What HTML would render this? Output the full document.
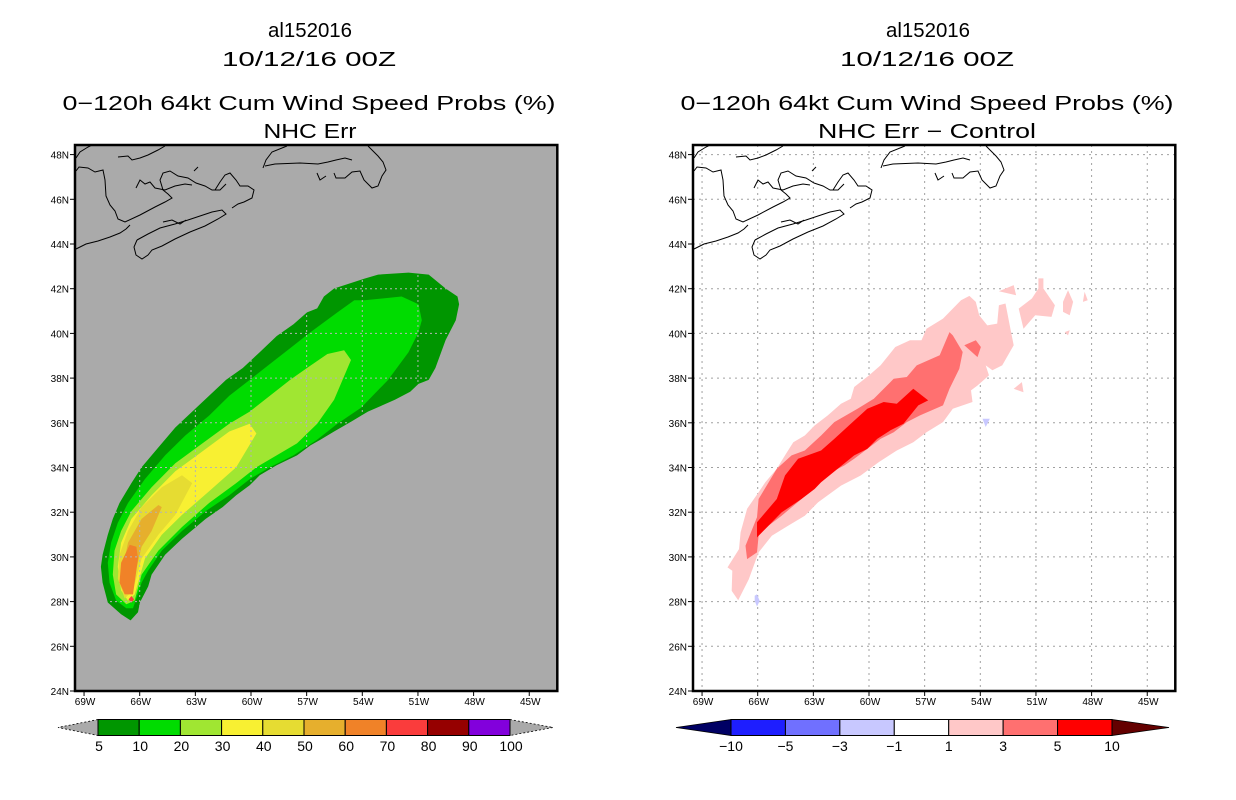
<!DOCTYPE html>
<html><head><meta charset="utf-8"><style>
html,body{margin:0;padding:0;background:#fff;}
svg{display:block;font-family:"Liberation Sans",sans-serif;}
</style></head><body>
<svg id="fig" width="1236" height="800" viewBox="0 0 1236 800" xmlns="http://www.w3.org/2000/svg">
<defs>
 <clipPath id="clipL"><rect x="75" y="145" width="482.3" height="546"/></clipPath>
 <clipPath id="clipR"><rect x="693" y="145" width="482.3" height="546"/></clipPath>
</defs>
<g font-size="20" text-anchor="middle" fill="#000">
 <text x="310" y="37" textLength="84" lengthAdjust="spacingAndGlyphs">al152016</text>
 <text x="309" y="66" textLength="174" lengthAdjust="spacingAndGlyphs">10/12/16 00Z</text>
 <text x="309" y="110" textLength="493" lengthAdjust="spacingAndGlyphs">0−120h 64kt Cum Wind Speed Probs (%)</text>
 <text x="310" y="138" textLength="93" lengthAdjust="spacingAndGlyphs">NHC Err</text>
</g>
<g font-size="20" text-anchor="middle" fill="#000">
 <text x="928" y="37" textLength="84" lengthAdjust="spacingAndGlyphs">al152016</text>
 <text x="927" y="66" textLength="174" lengthAdjust="spacingAndGlyphs">10/12/16 00Z</text>
 <text x="927" y="110" textLength="493" lengthAdjust="spacingAndGlyphs">0−120h 64kt Cum Wind Speed Probs (%)</text>
 <text x="927" y="138" textLength="218" lengthAdjust="spacingAndGlyphs">NHC Err − Control</text>
</g>
<rect x="75" y="145" width="482.3" height="546" fill="#aaaaaa"/>
<rect x="693" y="145" width="482.3" height="546" fill="#ffffff"/>
<g id="layerL" clip-path="url(#clipL)"></g>
<g id="layerR" clip-path="url(#clipR)"></g>
<g id="axes"></g>
</svg>
<script>
const NS="http://www.w3.org/2000/svg";
// ---- data ----
const lonTicks=[-69,-66,-63,-60,-57,-54,-51,-48,-45];
const lonTickLabels=["69W","66W","63W","60W","57W","54W","51W","48W","45W"];
const latTicks=[24,26,28,30,32,34,36,38,40,42,44,46,48];
const latTickLabels=["24N","26N","28N","30N","32N","34N","36N","38N","40N","42N","44N","46N","48N"];
const probLevels=["5","10","20","30","40","50","60","70","80","90","100"];
const probColors=["#009600","#00dc00","#a0e632","#f8f032","#e6dc32","#e6af2d","#f08228","#fa3c3c","#960000","#8200dc"];
const diffLevels=["−10","−5","−3","−1","1","3","5","10"];
const diffColors=["#1e1eff","#7070ff","#c8c8ff","#ffffff","#ffc8c8","#ff7070","#ff0000"];
const p05=[[-66.49,27.16],[-66.09,27.52],[-65.99,27.96],[-65.54,28.68],[-65.36,29.21],[-64.63,30.10],[-63.72,30.81],[-62.44,31.70],[-61.53,32.23],[-60.80,32.76],[-60.07,33.21],[-59.53,33.65],[-58.62,34.10],[-57.52,34.54],[-56.80,34.99],[-56.25,35.25],[-55.52,35.61],[-54.61,36.05],[-53.70,36.50],[-52.24,37.03],[-51.42,37.39],[-50.97,37.74],[-50.42,37.92],[-50.06,38.45],[-49.51,39.70],[-48.96,40.59],[-48.78,41.30],[-48.87,41.65],[-49.51,42.01],[-50.42,42.63],[-51.51,42.72],[-53.15,42.63],[-53.88,42.45],[-55.52,42.01],[-56.07,41.65],[-56.43,41.12],[-56.98,40.94],[-57.71,40.41],[-58.62,39.88],[-59.53,39.16],[-60.44,38.45],[-61.35,37.92],[-62.26,37.21],[-63.17,36.50],[-64.08,35.79],[-64.99,34.90],[-65.90,34.01],[-66.45,33.30],[-67.09,32.41],[-67.45,31.70],[-67.72,30.99],[-68.00,30.10],[-68.09,29.56],[-68.00,28.85],[-67.72,27.96],[-67.00,27.43]];
const p10=[[-66.36,27.70],[-65.90,28.85],[-65.54,29.39],[-64.81,30.28],[-63.72,31.16],[-62.44,32.05],[-61.17,32.76],[-60.07,33.48],[-58.98,34.01],[-57.71,34.54],[-56.43,35.25],[-55.34,35.96],[-54.06,36.68],[-52.61,37.92],[-51.51,39.16],[-50.97,40.05],[-50.79,40.59],[-50.97,41.30],[-51.88,41.65],[-53.88,41.48],[-54.43,41.48],[-55.34,40.94],[-56.80,40.05],[-57.89,39.34],[-58.98,38.63],[-60.07,37.92],[-61.17,37.21],[-62.26,36.32],[-63.54,35.43],[-64.63,34.54],[-65.72,33.48],[-66.63,32.41],[-67.18,31.52],[-67.54,30.63],[-67.72,29.74],[-67.63,28.85],[-67.27,28.05],[-66.72,27.70]];
const p20=[[-66.27,28.05],[-65.90,29.21],[-64.99,30.28],[-63.72,31.34],[-62.26,32.41],[-60.80,33.30],[-59.71,34.01],[-58.62,34.54],[-57.52,35.08],[-56.43,35.96],[-55.52,37.03],[-54.61,38.81],[-54.98,39.25],[-55.88,39.08],[-56.98,38.45],[-57.89,37.92],[-58.98,37.21],[-60.07,36.50],[-61.17,35.96],[-62.62,35.08],[-64.08,34.19],[-65.36,33.12],[-66.45,32.05],[-67.00,31.16],[-67.36,30.28],[-67.45,29.21],[-67.27,28.32],[-66.72,27.88]];
const p30=[[-66.27,28.32],[-65.72,29.92],[-64.81,30.99],[-63.72,31.88],[-62.26,32.94],[-60.80,34.01],[-59.71,35.52],[-60.07,35.96],[-61.17,35.61],[-62.62,34.72],[-64.08,33.83],[-65.36,32.76],[-66.45,31.70],[-67.00,30.63],[-67.18,29.56],[-67.00,28.50],[-66.63,28.05]];
const p40=[[-66.36,28.50],[-65.90,29.92],[-64.99,30.99],[-64.08,31.88],[-63.17,33.30],[-63.72,33.65],[-64.81,33.12],[-65.90,32.23],[-66.63,31.16],[-67.09,30.10],[-67.18,29.03],[-66.81,28.14]];
const p50=[[-66.36,28.85],[-65.90,30.45],[-65.36,31.16],[-64.81,32.23],[-64.99,32.32],[-65.90,31.70],[-66.63,30.63],[-66.90,29.56],[-66.81,28.50]];
const p60=[[-66.36,28.32],[-66.09,29.92],[-66.18,30.45],[-66.54,30.54],[-67.00,29.74],[-67.09,28.85],[-66.81,28.32]];
const p70=[[-66.45,27.95],[-66.30,28.10],[-66.45,28.25],[-66.60,28.10]];
const d1=[[-67.05,28.06],[-67.40,28.48],[-67.37,29.38],[-67.63,29.53],[-67.01,30.35],[-66.92,31.10],[-66.57,32.15],[-65.95,32.89],[-65.59,33.34],[-64.97,33.94],[-64.53,34.54],[-64.08,35.13],[-63.46,35.43],[-62.93,35.88],[-62.22,36.33],[-61.51,36.85],[-60.98,37.08],[-60.80,37.60],[-60.00,38.12],[-59.38,38.57],[-58.58,39.39],[-57.79,39.69],[-57.17,39.69],[-56.90,40.21],[-56.01,40.66],[-55.04,41.48],[-54.59,41.68],[-54.24,41.41],[-54.06,40.81],[-53.62,40.36],[-53.09,40.44],[-53.00,41.26],[-52.64,41.34],[-52.38,40.21],[-52.20,39.47],[-52.82,38.57],[-53.35,38.35],[-53.71,38.57],[-53.53,38.12],[-54.15,37.67],[-54.50,37.45],[-54.42,36.93],[-55.48,36.63],[-56.01,36.03],[-56.90,35.58],[-57.61,35.13],[-58.50,34.76],[-59.47,34.24],[-60.45,33.64],[-61.51,33.19],[-62.75,32.44],[-63.46,31.84],[-64.35,31.40],[-65.24,30.95],[-65.95,30.20],[-66.48,29.00]];
const d1a=[[-53.00,41.89],[-52.20,42.16],[-52.07,41.71]];
const d1b=[[-51.93,41.11],[-51.22,41.56],[-50.87,42.01],[-50.87,42.46],[-50.60,42.46],[-50.60,42.01],[-49.98,41.26],[-50.16,40.74],[-51.04,40.81],[-51.67,40.21]];
const d1c=[[-49.54,41.41],[-49.27,41.93],[-49.00,41.41],[-49.18,40.81],[-49.54,40.96]];
const d1d=[[-48.38,41.86],[-48.21,41.48],[-48.47,41.41]];
const d1e=[[-52.20,37.52],[-51.76,37.82],[-51.67,37.37]];
const d1f=[[-49.45,40.06],[-49.18,40.14],[-49.27,39.91]];
const d3=[[-66.57,29.90],[-66.66,30.50],[-66.04,31.77],[-65.95,32.59],[-64.97,33.94],[-64.17,34.54],[-63.46,34.76],[-62.58,35.43],[-61.87,36.03],[-60.62,36.63],[-59.74,37.08],[-58.67,37.97],[-57.96,38.05],[-57.43,38.57],[-56.19,39.02],[-55.66,40.06],[-55.48,39.91],[-54.95,39.17],[-55.13,38.42],[-55.66,37.52],[-56.01,36.78],[-57.25,36.33],[-57.96,36.03],[-58.67,35.58],[-59.38,35.28],[-60.09,34.83],[-60.80,34.39],[-61.33,34.09],[-62.04,33.79],[-63.11,33.04],[-63.64,32.59],[-64.71,31.84],[-65.41,31.40],[-65.95,30.95],[-66.04,30.20]];
const d3a=[[-54.86,39.47],[-54.24,39.69],[-53.97,39.39],[-54.15,38.94]];
const d5=[[-66.04,30.87],[-66.04,31.55],[-64.97,32.59],[-64.53,33.64],[-63.82,34.39],[-62.58,34.76],[-61.87,35.28],[-60.98,35.96],[-60.09,36.63],[-59.21,36.93],[-58.50,36.85],[-57.61,37.52],[-56.81,37.00],[-57.34,36.78],[-58.14,35.96],[-58.85,35.66],[-59.56,35.28],[-60.09,34.83],[-60.80,34.54],[-61.69,33.94],[-62.58,33.34],[-62.93,33.04],[-63.64,32.59],[-64.71,31.99],[-65.41,31.40],[-65.95,30.95]];
const dm1a=[[-53.88,36.18],[-53.49,36.18],[-53.71,35.81]];
const dm1b=[[-66.16,28.26],[-66.04,28.33],[-65.89,28.03],[-66.04,27.78],[-66.16,28.03]];
// coastlines (pixel-traced outlines, decoration, given relative to left panel)
const coasts=[
 "M76,158 L80,152 L88,147 L92,145",
 "M76,171 L79,167 L88,168 L95,172 L103,170 L105,180 L106,196 L110,205 L115,211 L118,219 L125,222 L140,215 L155,207 L165,202 L172,198 L168,194 L163,190 L160,180 L163,173 L170,171 L178,176 L188,178 L196,183 L205,186 L212,190 L220,190 L226,184",
 "M118,157 L128,156 L132,160 L140,158 L148,155 L158,150 L165,146",
 "M136,188 L140,180 L145,184 L150,182 L155,188 L165,190 L175,186 L185,184 L192,185",
 "M215,190 L220,182 L225,175 L230,173 L236,180 L240,186 L248,186 L254,190 L252,198 L244,202 L238,204 L232,208",
 "M76,249 L86,244 L98,241 L110,237 L120,233 L126,229 L130,225",
 "M137,240 L134,247 L136,255 L142,259 L148,255 L152,250 L162,246 L175,239 L190,232 L205,226 L218,219 L226,214 L222,210 L212,212 L200,216 L188,220 L175,224 L160,228 L148,234 L137,240",
 "M163,222 L172,220 L180,224 L186,220",
 "M194,171 L198,167",
 "M263,168 L266,160 L272,152 L282,148 L287,146",
 "M265,166 L275,164 L300,163 L318,164 L328,162 L336,160 L345,158 L352,160",
 "M334,173 L336,178 L345,178 L352,172 L360,171 L364,180 L372,188 L378,186 L382,176 L386,170 L383,162 L378,156 L372,150 L368,146",
 "M317,173 L320,180 L326,176"
];
// ---- axis functions ----
function X(lon,off){return 139.7+off+(lon+66)*18.55;}
function Y(lat){return 691-(lat-24)*22.35;}
function pts(arr,off){return arr.map(p=>X(p[0],off).toFixed(1)+","+Y(p[1]).toFixed(1)).join(" ");}
function mk(tag,attrs,parent){const e=document.createElementNS(NS,tag);for(const k in attrs)e.setAttribute(k,attrs[k]);parent.appendChild(e);return e;}
const L=document.getElementById('layerL'), R=document.getElementById('layerR'), A=document.getElementById('axes');
const FL=75, FR=557.3, FT=145, FB=691;
// left contours
const leftSets=[[p05,0],[p10,1],[p20,2],[p30,3],[p40,4],[p50,5],[p60,6],[p70,7]];
leftSets.forEach((s,i)=>{
 const e=mk('polygon',{points:pts(s[0],0),fill:probColors[s[1]]},L);
 
 
});
// left grid clipped to outer contour
const cp=mk('clipPath',{id:'clipContour'},document.querySelector('defs'));
mk('polygon',{points:pts(p05,0)},cp);
const gL=mk('g',{'clip-path':'url(#clipContour)',stroke:'#b4b4b4','stroke-width':1,'stroke-dasharray':'2,3'},L);


lonTicks.forEach(v=>mk('line',{x1:X(v,0),x2:X(v,0),y1:FT,y2:FB},gL));
latTicks.forEach(v=>mk('line',{x1:FL,x2:FR,y1:Y(v),y2:Y(v)},gL));
// right grid
const gR=mk('g',{stroke:'#a0a0a0','stroke-width':1,'stroke-dasharray':'2,4'},R);


lonTicks.forEach(v=>mk('line',{x1:X(v,618),x2:X(v,618),y1:FT,y2:FB},gR));
latTicks.forEach(v=>mk('line',{x1:FL+618,x2:FR+618,y1:Y(v),y2:Y(v)},gR));
// right contours
const rightSets=[[d1,4],[d1a,4],[d1b,4],[d1c,4],[d1d,4],[d1e,4],[d1f,4],[d3,5],[d3a,5],[d5,6],[dm1a,2],[dm1b,2]];
rightSets.forEach(s=>{
 const e=mk('polygon',{points:pts(s[0],618),fill:diffColors[s[1]]},R);
 
 
});
// coastlines
[[L,0],[R,618]].forEach(([g,off])=>{
 const c=mk('g',{transform:'translate('+off+',0)',fill:'none',stroke:'#000','stroke-width':1},g);
 
 
 coasts.forEach(d=>mk('path',{d:d},c));
});
// frames, ticks
[0,618].forEach(off=>{
 const f=mk('rect',{x:FL+off,y:FT,width:FR-FL,height:FB-FT,fill:'none',stroke:'#000','stroke-width':2.5},A);
 
 
 latTicks.forEach((v,i)=>{
  mk('line',{x1:70+off,x2:75+off,y1:Y(v),y2:Y(v),stroke:'#000'},A);
  const t=mk('text',{x:69+off,y:Y(v)+4,'font-size':10,'text-anchor':'end',fill:'#000'},A);
  t.textContent=latTickLabels[i];
  
  
 });
 lonTicks.forEach((v,i)=>{
  mk('line',{x1:X(v,off),x2:X(v,off),y1:FB,y2:FB+5,stroke:'#000'},A);
  const t=mk('text',{x:X(v,off)+1,y:705,'font-size':10,'text-anchor':'middle',fill:'#000'},A);
  t.textContent=lonTickLabels[i];
  
  
 });
});
// colorbar left
(function(){
 const x0=98,x1=510,y0=719.5,y1=735.5,n=probColors.length,w=(x1-x0)/n;
 const g=mk('g',{},A);
 
 
 mk('polygon',{points:`${x0},${y0} 58,${(y0+y1)/2} ${x0},${y1}`,fill:'#aaaaaa',stroke:'#000','stroke-dasharray':'2,2','stroke-width':0.8},g);
 mk('polygon',{points:`${x1},${y0} 553,${(y0+y1)/2} ${x1},${y1}`,fill:'#aaaaaa',stroke:'#000','stroke-dasharray':'2,2','stroke-width':0.8},g);
 probColors.forEach((c,i)=>{
  const r=mk('rect',{x:x0+i*w,y:y0,width:w,height:y1-y0,fill:c,stroke:'#000','stroke-width':1},g);
  
  
 });
 probLevels.forEach((s,i)=>{
  const t=mk('text',{x:x0+i*w+1,y:751,'font-size':14,'text-anchor':'middle',fill:'#000'},g);
  t.textContent=s;
  
  
 });
})();
// colorbar right
(function(){
 const x0=731,x1=1112,y0=719.5,y1=735.5,n=diffColors.length,w=(x1-x0)/n;
 const g=mk('g',{},A);
 
 
 mk('polygon',{points:`${x0},${y0} 676,${(y0+y1)/2} ${x0},${y1}`,fill:'#000064',stroke:'#000','stroke-width':0.8},g);
 mk('polygon',{points:`${x1},${y0} 1169,${(y0+y1)/2} ${x1},${y1}`,fill:'#640000',stroke:'#000','stroke-width':0.8},g);
 diffColors.forEach((c,i)=>{
  const r=mk('rect',{x:x0+i*w,y:y0,width:w,height:y1-y0,fill:c,stroke:'#000','stroke-width':1},g);
  
  
 });
 diffLevels.forEach((s,i)=>{
  const t=mk('text',{x:x0+i*w,y:751,'font-size':14,'text-anchor':'middle',fill:'#000'},g);
  t.textContent=s;
  
  
 });
})();
</script>
</body></html>
